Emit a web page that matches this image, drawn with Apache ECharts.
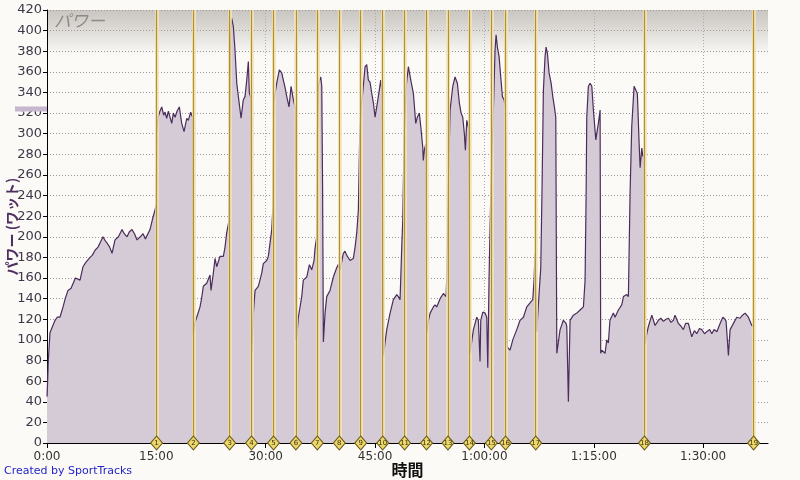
<!DOCTYPE html>
<html><head><meta charset="utf-8">
<script src="https://cdn.jsdelivr.net/npm/echarts@6/dist/echarts.min.js"></script>
<style>html,body{margin:0;padding:0;background:#fbfaf6;}#c{width:800px;height:480px;}</style>
</head><body><div id="c"></div>
<script>
// power (W) vs elapsed time (minutes)
const powerData = [
[0,45],[0.1,62],[0.18,80],[0.41,107],[1.1,119],[1.4,122],[1.78,122],[2.2,132],[2.5,140],[2.88,148],[3.3,150],[3.57,151],[3.9,160],[4.12,161],[4.53,158],[4.94,171],[5.3,175],[5.9,180],[6.2,182],[6.59,187],[7.0,190],[7.27,194],[7.68,200],[8.0,196],[8.23,194],[8.6,190],[8.92,184],[9.33,197],[9.8,200],[10.29,207],[10.6,203],[10.98,200],[11.3,205],[11.66,207],[12.0,203],[12.35,197],[12.8,200],[13.17,203],[13.5,198],[13.72,199],[14.13,207],[14.54,219],[14.82,226],[15.0,232],
[15.05,300],[15.23,316],[15.5,322],[15.74,326],[16.0,318],[16.19,321],[16.42,315],[16.65,322],[16.87,321],[17.11,310],[17.33,320],[17.56,316],[17.85,322],[18.15,326],[18.48,310],[18.8,302],[19.17,315],[19.39,313],[19.71,321],[19.85,318],[20.0,316],
[20.05,105],[20.3,117],[20.54,122],[20.99,132],[21.2,140],[21.44,152],[21.91,155],[22.36,163],[22.5,148],[22.82,165],[23.05,179],[23.28,171],[23.73,181],[24.19,181],[24.42,190],[24.65,204],[24.95,215],
[25.1,330],[25.2,395],[25.34,412],[25.56,404],[25.79,381],[26.03,349],[26.25,336],[26.48,323],[26.62,315],[26.93,333],[27.16,336],[27.4,352],[27.62,370],[27.75,340],[27.95,335],
[28.08,87],[28.3,126],[28.54,148],[28.99,152],[29.46,165],[29.67,174],[30.14,177],[30.36,181],[30.59,182],[30.83,207],[31.0,230],
[31.1,330],[31.28,339],[31.51,349],[31.87,362],[32.2,359],[32.42,352],[32.65,345],[32.89,336],[33.2,326],[33.48,346],[33.79,333],[34.05,325],
[34.15,100],[34.26,103],[34.48,122],[34.94,142],[35.16,158],[35.63,161],[35.99,173],[36.31,168],[36.63,177],[36.77,189],[37.0,200],
[37.1,300],[37.22,346],[37.4,352],[37.55,355],[37.69,346],[37.8,250],[37.91,98],
[38.14,126],[38.37,142],[38.82,148],[39.28,161],[39.74,170],[39.96,173],[40.2,168],[40.65,184],[40.88,186],[41.12,182],[41.57,177],[42.02,179],[42.26,190],[42.49,204],[42.71,226],
[42.9,300],[43.1,326],[43.31,340],[43.63,365],[43.86,367],[44.08,352],[44.31,350],[44.55,339],[44.77,330],[45.0,316],[45.23,326],[45.45,336],[45.78,352],[45.95,340],
[46.14,85],[46.6,110],[47.06,126],[47.51,139],[47.98,144],[48.19,142],[48.43,139],[48.66,190],[48.8,216],
[49.0,300],[49.27,346],[49.57,365],[49.9,352],[50.26,339],[50.58,310],[50.8,316],[51.07,320],[51.27,307],[51.54,287],[51.62,274],[51.76,284],[51.95,290],
[52.09,106],[52.3,118],[52.55,126],[53.0,132],[53.23,134],[53.46,132],[53.92,140],[54.37,145],[54.74,142],[54.84,161],
[55.05,250],[55.29,323],[55.66,346],[55.97,355],[56.29,349],[56.56,330],[56.8,320],[57.03,316],[57.25,300],[57.39,284],[57.58,313],[57.85,305],
[58.03,87],[58.49,110],[58.95,122],[59.17,119],[59.4,79],[59.5,119],[59.78,127],[60.09,126],[60.32,122],[60.46,73],[60.64,161],
[60.9,250],[61.23,323],[61.46,381],[61.6,396],[61.78,384],[62.01,375],[62.24,355],[62.47,336],[62.7,333],[62.88,326],
[63.15,93],[63.52,90],[63.89,100],[64.44,110],[64.89,119],[65.35,122],[65.81,132],[66.26,136],[66.63,139],[66.81,158],[66.95,184],[67.18,108],[67.5,145],[67.73,170],[67.91,250],[68.09,342],[68.32,375],[68.46,384],[68.64,378],[68.87,359],[69.15,349],[69.38,336],[69.6,326],[69.79,316],[69.93,87],
[70.01,87],[70.38,110],[70.83,119],[71.2,116],[71.3,113],[71.52,40],[71.75,119],[72.2,124],[72.67,126],[73.12,129],[73.58,132],[73.81,158],[73.95,240],[74.04,316],[74.26,346],[74.5,349],[74.73,346],[74.95,323],[75.28,294],[75.41,300],[75.63,310],[75.87,323],[75.95,87],
[76.1,90],[76.55,87],[76.78,100],[77.0,97],[77.22,119],[77.46,119],[77.69,126],[77.92,122],[78.37,129],[78.84,134],[79.07,142],[79.53,144],[79.75,142],[79.98,242],[80.21,307],[80.53,346],[80.8,347],[80.98,339],[81.22,291],[81.36,267],[81.59,286],[81.73,278],[81.9,280],
[82.0,95],[82.18,103],[82.49,113],[82.96,124],[83.41,114],[83.86,119],[84.2,121],[84.55,118],[84.9,120],[85.24,121],[85.6,117],[85.92,119],[86.15,124],[86.61,116],[87.0,113],[87.29,110],[87.6,116],[87.98,116],[88.44,103],[88.8,109],[89.13,106],[89.5,111],[89.82,110],[90.2,106],[90.5,108],[90.9,110],[91.19,106],[91.5,110],[91.88,108],[92.33,116],[92.7,122],[93.0,120],[93.15,118],[93.47,85],[93.7,110],[94.16,116],[94.62,122],[95.07,121],[95.4,124],[95.76,126],[96.21,122],[96.68,114],[96.86,113]
];
const lapTimes = [15.03,20.08,25.05,28.05,31.07,34.14,37.08,40.10,43.03,46.05,49.05,52.06,55.0,57.94,60.95,62.9,67.04,81.95,96.93];
const lapLabels = ['1','2','3','4','5','6','7','8','9','10','11','12','13','14','15','16','17','18','19'];
const xTickLabels = ['0:00','15:00','30:00','45:00','1:00:00','1:15:00','1:30:00'];
const xMax = 98.9;
const yMax = 420;
const axisMarkerValue = 324;

const chart = echarts.init(document.getElementById('c'));
const FONT = 'DejaVu Sans';
const lapLineData = lapTimes.map(t => ({xAxis: t}));
const credit = {type: 'text', left: 4, top: 466, style: {text: 'Created by SportTracks', fill: '#2424c8', fontFamily: FONT, fontSize: 11}};
chart.setOption({
  backgroundColor: '#fbfaf6',
  animation: false,
  title: {text: 'パワー', left: 49, top: 7,
    textStyle: {fontFamily: 'Noto Sans CJK JP', fontStyle: 'italic', fontWeight: 'normal', fontSize: 17, color: '#8c8a88'}},
  grid: {left: 47, right: 32, top: 10, bottom: 37, containLabel: false, outerBoundsMode: 'none',
    show: true, borderWidth: 0,
    backgroundColor: new echarts.graphic.LinearGradient(0, 0, 0, 1, [
      {offset: 0, color: '#c9c6c1'}, {offset: 0.03, color: '#d6d3cf'}, {offset: 0.105, color: '#fbfaf6'}, {offset: 1, color: '#fbfaf6'}])},
  xAxis: {type: 'value', min: 0, max: xMax, interval: 15,
    name: '時間', nameLocation: 'middle', nameGap: 19, nameMoveOverlap: false,
    nameTextStyle: {fontFamily: 'Noto Sans CJK JP', fontWeight: 'bold', fontSize: 16, color: '#111'},
    axisLine: {lineStyle: {color: '#000', width: 1}},
    axisTick: {length: 5, lineStyle: {color: '#000'}},
    axisLabel: {fontFamily: FONT, fontSize: 12, color: '#333', margin: 8, showMaxLabel: false,
      formatter: v => { const i = Math.round(v / 15); return (Math.abs(v - i * 15) < 1e-6 && xTickLabels[i]) ? xTickLabels[i] : ''; }},
    splitLine: {show: true, showMaxLine: false, lineStyle: {color: '#aaa', type: [1, 2], width: 1}}
  },
  yAxis: {type: 'value', min: 0, max: yMax, interval: 20,
    name: 'パワー (ワット)', nameLocation: 'middle', nameRotate: 90, nameGap: 28, nameMoveOverlap: false,
    nameTextStyle: {fontFamily: 'Noto Sans CJK JP', fontWeight: 'bold', fontSize: 14, color: '#4e2e60'},
    axisLine: {show: true, lineStyle: {color: '#000', width: 1}},
    axisTick: {show: true, length: 4, lineStyle: {color: '#000'}},
    axisLabel: {fontFamily: FONT, fontSize: 13, color: '#3e3848', margin: 5},
    splitLine: {show: true, lineStyle: {color: '#999', type: [1, 2], width: 1}}
  },
  series: [
    {type: 'line', data: powerData, showSymbol: false, z: 2,
      lineStyle: {color: '#4b2d5c', width: 1.2},
      areaStyle: {color: '#d5cbd6', opacity: 1}},
    {type: 'line', data: [], z: 3, silent: true,
      markLine: {symbol: 'none', silent: true, label: {show: false},
        lineStyle: {color: '#f2e6b4', width: 4, type: 'solid', opacity: 0.8}, data: lapLineData}},
    {type: 'line', data: [], z: 4, silent: true,
      markLine: {symbol: 'none', silent: true, label: {show: false},
        lineStyle: {color: '#b48e30', width: 1.2, type: 'solid'}, data: lapLineData}},
    {type: 'scatter', clip: false, z: 10, silent: true,
      data: lapTimes.map((t, i) => ({value: [t, 0], name: lapLabels[i]})),
      symbol: 'diamond', symbolSize: [12, 14],
      itemStyle: {color: '#ecd86a', borderColor: '#6e5c1e', borderWidth: 1, opacity: 1},
      label: {show: true, position: 'inside', formatter: p => p.name, fontFamily: FONT, fontSize: 7, color: '#3a2f10'}}
  ],
  graphic: [credit]
});
const my = chart.convertToPixel({yAxisIndex: 0}, axisMarkerValue);
chart.setOption({graphic: [
  credit,
  {type: 'rect', shape: {x: 15, y: my - 2.5, width: 32, height: 5}, style: {fill: '#c6b6ce'}, z: 1}
]});
</script></body></html>
